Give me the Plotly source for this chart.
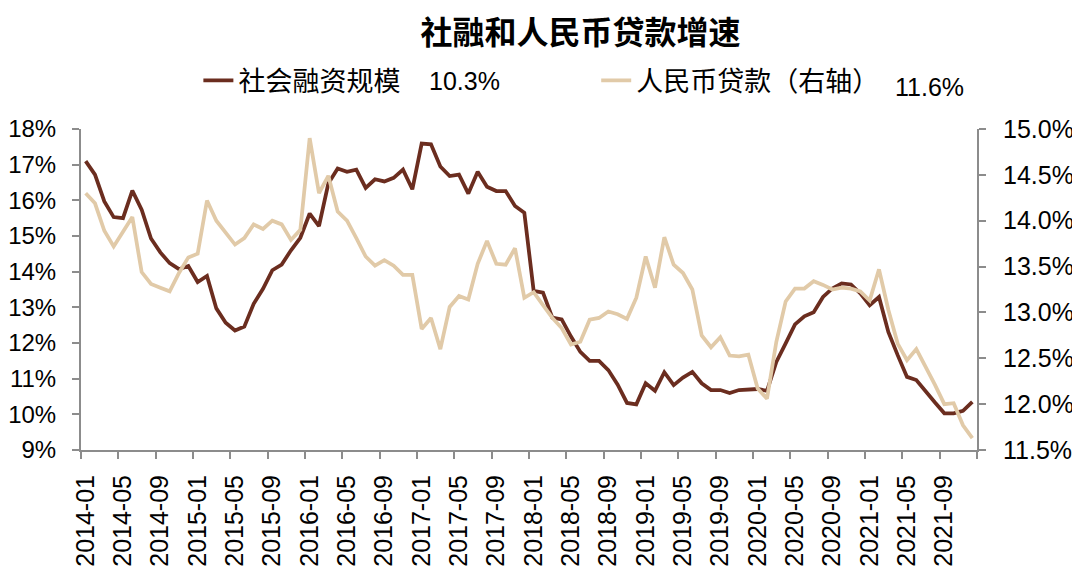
import pandas as pd
import plotly.graph_objects as go

# monthly categories, 2014-01 .. 2021-12
months = pd.period_range("2014-01", "2021-12", freq="M").strftime("%Y-%m").tolist()

# 社会融资规模存量同比 (%), left axis
tsf_growth = [
    17.10, 16.72, 15.97, 15.53, 15.50, 16.27, 15.74, 14.93, 14.54, 14.24, 14.07, 14.16,
    13.71, 13.88, 12.97, 12.57, 12.35, 12.46, 13.10, 13.52, 14.04, 14.20, 14.60, 14.95,
    15.63, 15.28, 16.47, 16.89, 16.80, 16.86, 16.35, 16.59, 16.53, 16.63, 16.86, 16.31,
    17.59, 17.57, 16.95, 16.68, 16.72, 16.19, 16.80, 16.38, 16.26, 16.26, 15.84, 15.65,
    13.46, 13.41, 12.71, 12.66, 12.18, 11.75, 11.50, 11.50, 11.24, 10.83, 10.32, 10.28,
    10.87, 10.66, 11.18, 10.82, 11.03, 11.19, 10.87, 10.68, 10.68, 10.60, 10.68, 10.70,
    10.71, 10.66, 11.47, 11.99, 12.52, 12.75, 12.86, 13.29, 13.53, 13.67, 13.64, 13.39,
    13.06, 13.29, 12.31, 11.66, 11.05, 10.96, 10.63, 10.33, 10.03, 10.03, 10.10, 10.35,
]

# 人民币贷款余额同比 (%), right axis
loan_growth = [
    14.30, 14.19, 13.89, 13.72, 13.88, 14.04, 13.44, 13.31, 13.27, 13.23, 13.43, 13.60,
    13.64, 14.22, 14.00, 13.87, 13.74, 13.81, 13.96, 13.91, 14.00, 13.96, 13.79, 13.90,
    14.90, 14.30, 14.49, 14.10, 14.00, 13.81, 13.61, 13.51, 13.57, 13.51, 13.41, 13.41,
    12.82, 12.94, 12.60, 13.06, 13.18, 13.14, 13.53, 13.78, 13.53, 13.52, 13.70, 13.16,
    13.22, 13.08, 12.94, 12.83, 12.65, 12.68, 12.92, 12.94, 13.01, 12.98, 12.93, 13.16,
    13.61, 13.27, 13.82, 13.52, 13.43, 13.25, 12.75, 12.62, 12.73, 12.53, 12.52, 12.54,
    12.17, 12.06, 12.68, 13.12, 13.26, 13.26, 13.34, 13.30, 13.25, 13.27, 13.26, 13.23,
    13.13, 13.47, 13.03, 12.66, 12.48, 12.60, 12.41, 12.21, 12.00, 12.01, 11.77, 11.63,
]

latest_tsf = "10.3%"
latest_loan = "11.6%"

BROWN = "#6B2D1F"
BEIGE = "#E1CAA8"
AXIS = "#8C8C8C"
FONT = "Arial, 'Liberation Sans', 'Noto Sans CJK SC', sans-serif"

x = list(range(len(months)))
label_pos = x[::4]
label_text = months[::4]
boundary_ticks = [i - 0.5 for i in range(0, len(months) + 1, 4)]

fig = go.Figure()
fig.add_trace(go.Scatter(
    x=x, y=tsf_growth, name="社会融资规模", mode="lines",
    line=dict(color=BROWN, width=3.75),
    customdata=months, hovertemplate="%{customdata}: %{y:.1f}%<extra></extra>",
    legend="legend",
))
fig.add_trace(go.Scatter(
    x=x, y=loan_growth, name="人民币贷款（右轴）", mode="lines", yaxis="y2",
    line=dict(color=BEIGE, width=3.75),
    customdata=months, hovertemplate="%{customdata}: %{y:.1f}%<extra></extra>",
    legend="legend2",
))

axis_style = dict(
    showline=True, linecolor=AXIS, linewidth=2,
    showgrid=False, zeroline=False, automargin=False,
    ticks="outside", ticklen=7, tickwidth=2, tickcolor=AXIS,
)

legend_style = dict(
    orientation="h", yanchor="middle", xanchor="left",
    font=dict(size=27, color="black", family=FONT),
    bgcolor="rgba(0,0,0,0)",
)

# the html body adds an 8px margin, so the figure is 8px smaller than the window
fig.update_layout(
    width=1072, height=579,
    margin=dict(l=73, r=103, t=121, b=137, autoexpand=False),
    paper_bgcolor="white", plot_bgcolor="white",
    font=dict(family=FONT, color="black"),
    title=dict(
        text="<b>社融和人民币贷款增速</b>",
        x=0.534, xref="container", xanchor="center",
        y=0.957, yref="container", yanchor="middle",
        font=dict(size=32, color="black", family=FONT),
    ),
    xaxis=dict(
        showline=True, linecolor=AXIS, linewidth=2,
        showgrid=False, zeroline=False, automargin=False,
        range=[-0.5, len(months) - 0.5],
        tickmode="array", tickvals=label_pos, ticktext=label_text,
        tickangle=-90, ticks="", ticklabelstandoff=13,
        tickfont=dict(size=25, color="black", family=FONT),
        minor=dict(tickmode="array", tickvals=boundary_ticks,
                   ticks="outside", ticklen=7, tickwidth=2, tickcolor=AXIS),
    ),
    yaxis=dict(
        range=[9, 18], tick0=9, dtick=1, ticksuffix="%",
        ticklabelstandoff=11,
        tickfont=dict(size=24, color="black", family=FONT),
        **axis_style,
    ),
    yaxis2=dict(
        range=[11.5, 15], tick0=11.5, dtick=0.5, tickformat=".1f", ticksuffix="%",
        overlaying="y", side="right", ticklabelstandoff=12,
        tickfont=dict(size=25, color="black", family=FONT),
        **axis_style,
    ),
    legend=dict(x=0.131, y=1.150, **legend_style),
    legend2=dict(x=0.575, y=1.150, **legend_style),
    showlegend=True,
    annotations=[
        dict(text=latest_tsf, xref="paper", yref="paper", x=0.386, y=1.148,
             xanchor="left", yanchor="middle", showarrow=False,
             font=dict(size=25, color="black", family=FONT)),
        dict(text=latest_loan, xref="paper", yref="paper", x=0.906, y=1.131,
             xanchor="left", yanchor="middle", showarrow=False,
             font=dict(size=25, color="black", family=FONT)),
    ],
)

fig.write_html("out.html")
